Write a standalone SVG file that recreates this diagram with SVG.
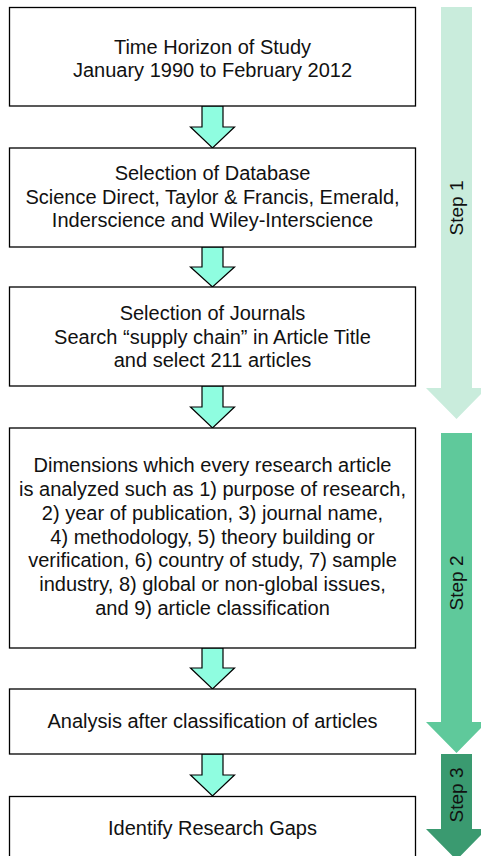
<svg xmlns="http://www.w3.org/2000/svg" width="481" height="856" viewBox="0 0 481 856">
<style>
.box{fill:#fff;stroke:#000;stroke-width:1.3}
.t{font-family:"Liberation Sans",Arial,sans-serif;font-size:20px;fill:#111;text-anchor:middle}
.s{font-family:"Liberation Sans",Arial,sans-serif;font-size:19px;fill:#111;text-anchor:middle}
.ar{fill:#8ffde0;stroke:#000;stroke-width:1.2;stroke-linejoin:miter}
</style>
<rect width="481" height="856" fill="#fff"/>
<g id="steps">
<g id="step1"><path d="M441,7 H472 V388 H487 L456.5,419 L426,388 H441 Z" fill="#c9ecdc"/>
<text class="s" transform="translate(463,208) rotate(-90)">Step 1</text></g>
<g id="step2"><path d="M441,433 H472 V722 H487 L456.5,753 L426,722 H441 Z" fill="#5fc99b"/>
<text class="s" transform="translate(463,583) rotate(-90)">Step 2</text></g>
<g id="step3"><path d="M441,754 H472 V829 H487 L456.5,860 L426,829 H441 Z" fill="#3a9a70"/>
<text class="s" transform="translate(463,795) rotate(-90)">Step 3</text></g>
</g>
<g id="connectors">
<path class="ar" d="M202,106 H223 V127 H234.5 L212.5,148 L190.5,127 H202 Z"/>
<path class="ar" d="M202,247 H223 V267 H234.5 L212.5,287 L190.5,267 H202 Z"/>
<path class="ar" d="M202,386 H223 V407 H234.5 L212.5,428 L190.5,407 H202 Z"/>
<path class="ar" d="M202,648 H223 V668 H234.5 L212.5,689 L190.5,668 H202 Z"/>
<path class="ar" d="M202,754 H223 V775 H234.5 L212.5,796 L190.5,775 H202 Z"/>
</g>
<g id="n1"><rect class="box" x="9.5" y="7.5" width="406" height="98.5"/>
<text class="t" x="212.5" y="54">Time Horizon of Study</text>
<text class="t" x="212.5" y="76.5">January 1990 to February 2012</text></g>
<g id="n2"><rect class="box" x="9.5" y="148" width="406" height="99"/>
<text class="t" x="212.5" y="180">Selection of Database</text>
<text class="t" x="212.5" y="203.5">Science Direct, Taylor &amp; Francis, Emerald,</text>
<text class="t" x="212.5" y="227">Inderscience and Wiley-Interscience</text></g>
<g id="n3"><rect class="box" x="9.5" y="287" width="406" height="99"/>
<text class="t" x="212.5" y="320">Selection of Journals</text>
<text class="t" x="212.5" y="343.5">Search “supply chain” in Article Title</text>
<text class="t" x="212.5" y="367">and select 211 articles</text></g>
<g id="n4"><rect class="box" x="9.5" y="428" width="406" height="220"/>
<text class="t" x="212.5" y="472">Dimensions which every research article</text>
<text class="t" x="212.5" y="496">is analyzed such as 1) purpose of research,</text>
<text class="t" x="212.5" y="520">2) year of publication, 3) journal name,</text>
<text class="t" x="212.5" y="543.5">4) methodology, 5) theory building or</text>
<text class="t" x="212.5" y="567">verification, 6) country of study, 7) sample</text>
<text class="t" x="212.5" y="591">industry, 8) global or non-global issues,</text>
<text class="t" x="212.5" y="615">and 9) article classification</text></g>
<g id="n5"><rect class="box" x="9.5" y="689" width="406" height="65"/>
<text class="t" x="212.5" y="728">Analysis after classification of articles</text></g>
<g id="n6"><rect class="box" x="9.5" y="796.5" width="406" height="70"/>
<text class="t" x="212.5" y="835">Identify Research Gaps</text></g>
</svg>
